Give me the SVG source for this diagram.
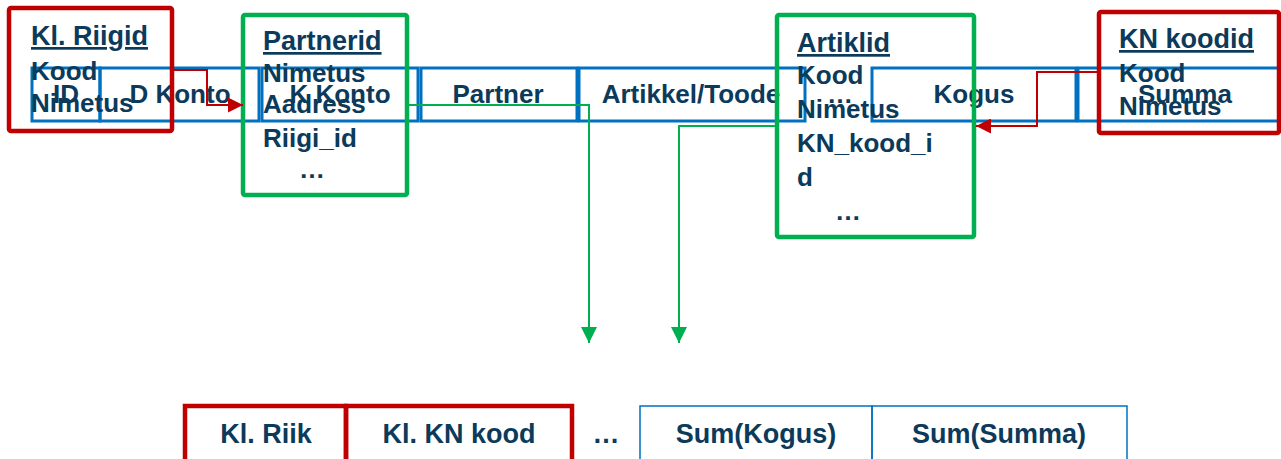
<svg xmlns="http://www.w3.org/2000/svg" width="1281" height="459" viewBox="0 0 1281 459">
<style>
text{font-family:"Liberation Sans",Arial,sans-serif;font-weight:bold;fill:#0B3A5A;font-size:26px}
.h{font-size:27px;text-decoration:underline}
.c{text-anchor:middle}
.b{font-size:27px;text-anchor:middle}
.cell{fill:none;stroke:#0070C0;stroke-width:3}
.bcell{fill:none;stroke:#0070C0;stroke-width:1.5}
.red{fill:none;stroke:#C00000;stroke-width:4.5}
.grn{fill:none;stroke:#00B050;stroke-width:4.5}
.rl{fill:none;stroke:#C00000;stroke-width:2}
.gl{fill:none;stroke:#00B050;stroke-width:2}
</style>
<defs>
<marker id="ar" viewBox="0 0 10 10" refX="10" refY="5" markerWidth="7.5" markerHeight="7.5" orient="auto" markerUnits="strokeWidth"><path d="M0,0 L10,5 L0,10 z" fill="#C00000"/></marker>
<marker id="ag" viewBox="0 0 10 10" refX="10" refY="5" markerWidth="8" markerHeight="8" orient="auto" markerUnits="strokeWidth"><path d="M0,0 L10,5 L0,10 z" fill="#00B050"/></marker>
</defs>
<g id="fact-row">
<rect class="cell" x="32" y="68" width="68" height="53"/>
<rect class="cell" x="100" y="68" width="159" height="53"/>
<rect class="cell" x="262" y="68" width="156" height="53"/>
<rect class="cell" x="421" y="68" width="156" height="53"/>
<rect class="cell" x="579" y="68" width="226" height="53"/>
<rect class="cell" x="872" y="68" width="204" height="53"/>
<rect class="cell" x="1078" y="68" width="214" height="53"/>
<text class="c" x="66" y="103">ID</text>
<text class="c" x="180" y="103">D Konto</text>
<text class="c" x="340" y="103">K Konto</text>
<text class="c" x="498" y="103">Partner</text>
<text class="c" x="691" y="103">Artikkel/Toode</text>
<text class="c" x="840" y="103">…</text>
<text class="c" x="974" y="103">Kogus</text>
<text class="c" x="1185" y="103">Summa</text>
</g>
<g id="kl-riigid">
<rect class="red" x="9" y="8" width="163" height="123" rx="2"/>
<text class="h" x="31" y="45">Kl. Riigid</text>
<text x="31" y="80">Kood</text>
<text x="31" y="112">Nimetus</text>
</g>
<g id="partnerid">
<rect class="grn" x="243" y="15" width="164" height="180" rx="2"/>
<text class="h" x="263" y="50">Partnerid</text>
<text x="263" y="82">Nimetus</text>
<text x="263" y="113">Aadress</text>
<text x="263" y="147">Riigi_id</text>
<text class="c" x="312" y="178">…</text>
</g>
<g id="artiklid">
<rect class="grn" x="777" y="15" width="197" height="222" rx="2"/>
<text class="h" x="797" y="52">Artiklid</text>
<text x="797" y="84">Kood</text>
<text x="797" y="118">Nimetus</text>
<text x="797" y="152">KN_kood_i</text>
<text x="797" y="186">d</text>
<text class="c" x="848" y="220">…</text>
</g>
<g id="kn-koodid">
<rect class="red" x="1099" y="12" width="180" height="121" rx="2"/>
<text class="h" x="1119" y="48">KN koodid</text>
<text x="1119" y="82">Kood</text>
<text x="1119" y="115">Nimetus</text>
</g>
<g id="result-row">
<rect class="red" x="185" y="406" width="161" height="58"/>
<rect class="red" x="346" y="406" width="226" height="58"/>
<text class="b" x="266" y="443">Kl. Riik</text>
<text class="b" x="459" y="443">Kl. KN kood</text>
<text class="b" x="606" y="443">…</text>
<rect class="bcell" x="640" y="406" width="232" height="58"/>
<rect class="bcell" x="872" y="406" width="255" height="58"/>
<text class="b" x="756" y="443">Sum(Kogus)</text>
<text class="b" x="999" y="443">Sum(Summa)</text>
</g>
<g id="connectors">
<path class="rl" d="M172,70 H207 V105 H243" marker-end="url(#ar)"/>
<path class="rl" d="M1099,72 H1037 V126 H976" marker-end="url(#ar)"/>
<path class="gl" d="M407,105 H589 V343" marker-end="url(#ag)"/>
<path class="gl" d="M777,126 H679 V343" marker-end="url(#ag)"/>
</g>
</svg>
